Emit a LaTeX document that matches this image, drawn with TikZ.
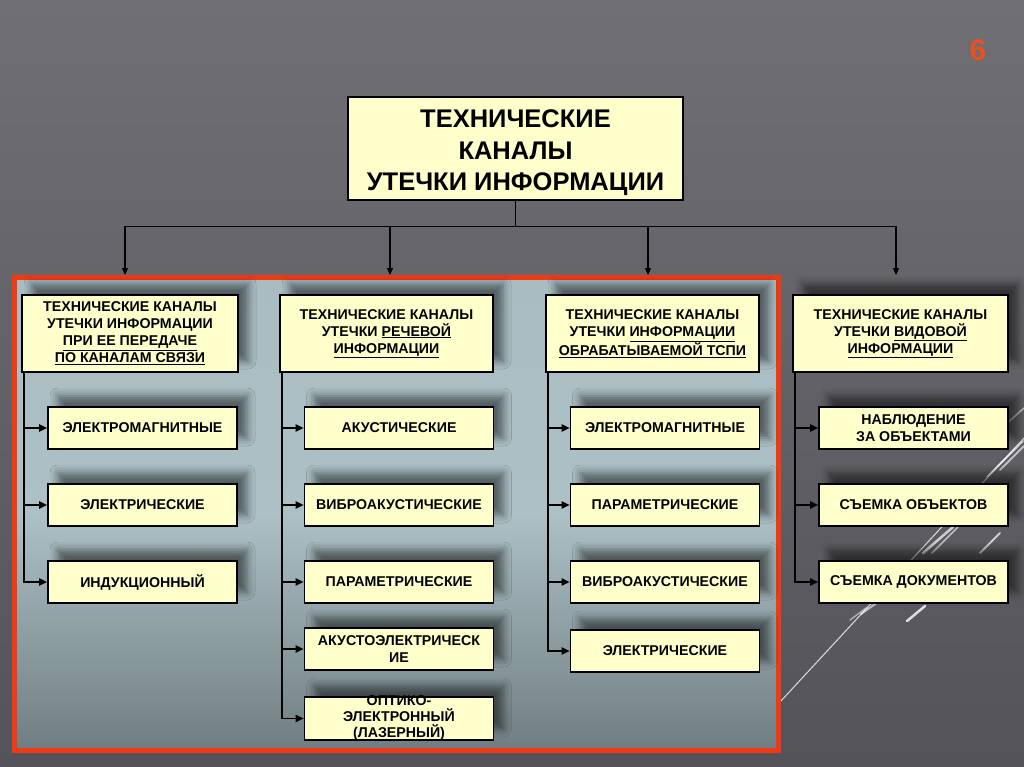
\documentclass[tikz,border=0pt]{standalone}
\usepackage{fontspec}
\setmainfont{Liberation Sans}
\usetikzlibrary{arrows.meta,calc,shadows.blur}
\definecolor{bgtop}{RGB}{112,111,116}
\definecolor{bgbot}{RGB}{84,83,89}
\definecolor{paneltop}{RGB}{168,188,193}
\definecolor{panelmid}{RGB}{172,192,197}
\definecolor{panelbot}{RGB}{112,126,131}
\definecolor{boxfill}{RGB}{255,255,204}
\definecolor{frame}{RGB}{240,58,22}
\definecolor{numcol}{RGB}{235,80,30}
\begin{document}
\begin{tikzpicture}[x=1pt,y=-1pt,
  box/.style={draw=black, line width=1.6pt, fill=boxfill, align=center, inner sep=0pt,
    font=\bfseries\fontsize{14.2}{17}\selectfont,
    blur shadow={shadow xshift=10pt, shadow yshift=11pt, shadow blur radius=8pt, shadow opacity=50}},
  hdr/.style={box, minimum width=216, minimum height=77},
  child/.style={box, minimum width=189, minimum height=42},
  conn/.style={draw=black, line width=1.4pt},
  tarr/.style={conn, -{Triangle[length=7pt,width=6pt]}},
  trunk/.style={draw=black, line width=1.8pt, -{Triangle[length=8pt,width=7pt]}},
  streak/.style={draw=white, line cap=round}]
\useasboundingbox (0,0) rectangle (1024,767);
% background
\shade[top color=bgtop, bottom color=bgbot] (0,0) rectangle (1024,767);
% decorative streaks
\draw[streak, line width=1pt, opacity=0.8] (780,702) -- (1024,438);
\draw[streak, line width=2pt, opacity=0.7] (987,477) -- (1023,441);
\draw[streak, line width=2pt, opacity=0.6] (1000,470) -- (1024,446);
\draw[streak, line width=1.5pt, opacity=0.6] (1005,425) -- (1024,408);
\draw[streak, line width=2.5pt, opacity=0.7] (923,553) -- (953,527);
\draw[streak, line width=1.5pt, opacity=0.6] (932,553) -- (958,527);
\draw[streak, line width=2pt, opacity=0.7] (980,553) -- (1000,533);
\draw[streak, line width=2.5pt, opacity=0.8] (907,621) -- (925,606);
\draw[streak, line width=2pt, opacity=0.6] (861,614) -- (878,602);
\draw[streak, line width=1.5pt, opacity=0.5] (850,620) -- (866,608);
% slide number
\node[text=numcol, font=\bfseries\fontsize{30}{30}\selectfont] (num) at (978,50) {6};
% red panel
\shade[top color=paneltop, bottom color=panelbot, middle color=panelmid] (14,277) rectangle (778,750);
\draw[frame, line width=5pt] (14,277) rectangle (778,750);
% top box
\node[draw=black, line width=1.6pt, fill=boxfill, inner sep=0pt,
  minimum width=335, minimum height=103] (top) at (515.5,148.5) {};
\node[align=center, inner sep=0pt, font=\bfseries\fontsize{25.5}{31.5}\selectfont]
  (toptext) at (515.5,153) {ТЕХНИЧЕСКИЕ\\КАНАЛЫ\\УТЕЧКИ ИНФОРМАЦИИ};
\coordinate (bus) at ($(top.south)+(0,26)$);
\coordinate (a1) at (125,275);
\coordinate (a2) at (390,275);
\coordinate (a3) at (648,275);
\coordinate (a4) at (896,275);
\draw[conn] (top.south) -- (bus);
\draw[tarr] (bus) -| (a1);
\draw[tarr] (bus) -| (a2);
\draw[tarr] (bus) -| (a3);
\draw[tarr] (bus) -| (a4);
% headers
\node[hdr] (h1) at (130,333.5) {ТЕХНИЧЕСКИЕ КАНАЛЫ\\УТЕЧКИ ИНФОРМАЦИИ\\\underline{ПРИ ЕЕ ПЕРЕДАЧЕ}\\\underline{ПО КАНАЛАМ СВЯЗИ}};
\node[hdr, minimum width=213] (h2) at (386.5,333.5) {ТЕХНИЧЕСКИЕ КАНАЛЫ\\УТЕЧКИ \underline{РЕЧЕВОЙ}\\\underline{ИНФОРМАЦИИ}};
\node[hdr, minimum width=213] (h3) at (652.5,333.5) {ТЕХНИЧЕСКИЕ КАНАЛЫ\\УТЕЧКИ \underline{ИНФОРМАЦИИ}\\\underline{ОБРАБАТЫВАЕМОЙ ТСПИ}};
\node[hdr, minimum width=215] (h4) at (900.5,333.5) {ТЕХНИЧЕСКИЕ КАНАЛЫ\\УТЕЧКИ \underline{ВИДОВОЙ}\\\underline{ИНФОРМАЦИИ}};
% column 1
\node[child] (c11) at (142.5,428) {ЭЛЕКТРОМАГНИТНЫЕ};
\node[child] (c12) at (142.5,505) {ЭЛЕКТРИЧЕСКИЕ};
\node[child] (c13) at (142.5,582) {ИНДУКЦИОННЫЙ};
% column 2
\node[child] (c21) at (399,428) {АКУСТИЧЕСКИЕ};
\node[child] (c22) at (399,505) {ВИБРОАКУСТИЧЕСКИЕ};
\node[child] (c23) at (399,582) {ПАРАМЕТРИЧЕСКИЕ};
\node[child] (c24) at (399,649) {АКУСТОЭЛЕКТРИЧЕСК\\ИЕ};
\node[child, minimum height=43] (c25) at (399,718.5) {};
\node[align=center, inner sep=0pt, font=\bfseries\fontsize{14.2}{16}\selectfont] (c25t) at (c25.center) {ОПТИКО-\\ЭЛЕКТРОННЫЙ\\(ЛАЗЕРНЫЙ)};
% column 3
\node[child] (c31) at (665,428) {ЭЛЕКТРОМАГНИТНЫЕ};
\node[child] (c32) at (665,505) {ПАРАМЕТРИЧЕСКИЕ};
\node[child] (c33) at (665,582) {ВИБРОАКУСТИЧЕСКИЕ};
\node[child] (c34) at (665,651) {ЭЛЕКТРИЧЕСКИЕ};
% column 4
\node[child] (c41) at (913.5,428) {НАБЛЮДЕНИЕ\\ЗА ОБЪЕКТАМИ};
\node[child] (c42) at (913.5,505) {СЪЕМКА ОБЪЕКТОВ};
\node[child] (c43) at (913.5,582) {СЪЕМКА ДОКУМЕНТОВ};
% trunks
\foreach \h/\c in {h1/c11,h1/c12,h1/c13,h2/c21,h2/c22,h2/c23,h2/c24,h2/c25,h3/c31,h3/c32,h3/c33,h3/c34,h4/c41,h4/c42,h4/c43}
  \draw[trunk] ($(\h.south west)+(2.5,0)$) |- (\c.west);
\end{tikzpicture}
\end{document}
